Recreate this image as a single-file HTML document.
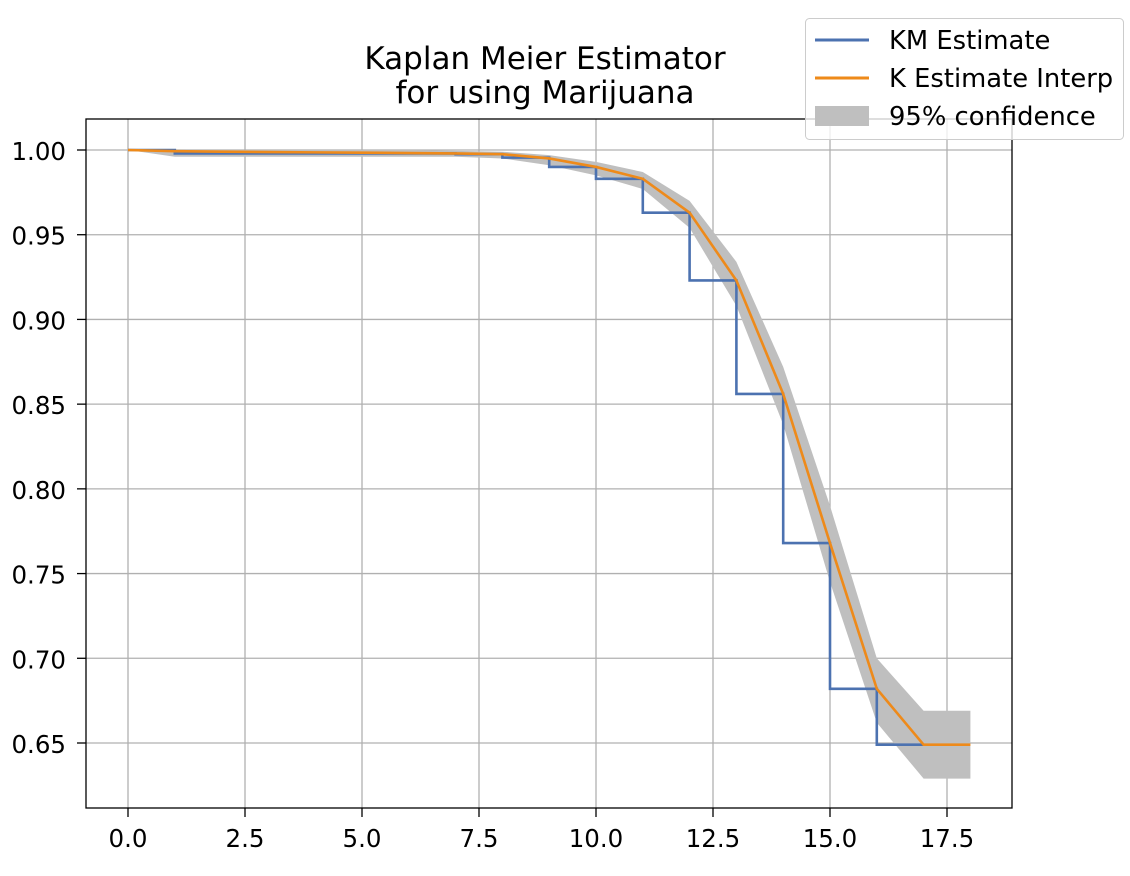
<!DOCTYPE html>
<html><head><meta charset="utf-8"><style>
body{margin:0;background:#fff;}
svg{display:block;font-family:"DejaVu Sans","Liberation Sans",sans-serif;}
</style></head><body>
<svg id="chart" width="1130" height="876" viewBox="0 0 1130 876">
<g id="grid"></g>
<g id="band"></g>
<g id="lines"></g>
<rect x="86" y="119" width="926" height="689" fill="none" stroke="#000" stroke-width="1.3"/>
<g id="ticks"></g>
<text x="545" y="69" text-anchor="middle" font-size="31">Kaplan Meier Estimator</text>
<text x="545" y="103" text-anchor="middle" font-size="31">for using Marijuana</text>
<g>
<rect x="805.5" y="18.5" width="318" height="121" rx="4" fill="#fff" fill-opacity="0.8" stroke="#ccc"/>
<line x1="815" y1="40" x2="869" y2="40" stroke="#4c72b0" stroke-width="3"/>
<text x="889" y="49" font-size="25.8">KM Estimate</text>
<line x1="815" y1="78" x2="869" y2="78" stroke="#ee8a1a" stroke-width="3"/>
<text x="889" y="87" font-size="25.8">K Estimate Interp</text>
<rect x="815" y="106" width="54" height="20" fill="#bfbfbf"/>
<text x="889" y="125" font-size="25.8">95% confidence</text>
</g>
</svg>
<script>
const kmTimes=[0,1,2,3,4,5,6,7,8,9,10,11,12,13,14,15,16,17];
const kmValues=[1.0,0.998,0.998,0.998,0.998,0.998,0.998,0.9975,0.9955,0.990,0.983,0.963,0.923,0.856,0.768,0.682,0.649,0.649];
const interpTimes=[0,1,2,3,4,5,6,7,8,9,10,11,12,13,14,15,16,17,18];
const interpValues=[1.0,0.9993,0.999,0.9988,0.9986,0.9984,0.9982,0.998,0.9975,0.995,0.990,0.983,0.963,0.923,0.856,0.768,0.682,0.649,0.649];
const ciUpper=[1.0,1.0,1.0,1.0,1.0,1.0,1.0,0.9995,0.999,0.997,0.993,0.987,0.970,0.934,0.872,0.790,0.700,0.669,0.669];
const ciLower=[1.0,0.996,0.996,0.996,0.996,0.996,0.996,0.996,0.995,0.991,0.985,0.977,0.954,0.908,0.838,0.745,0.662,0.629,0.629];
const xTicks=[0,2.5,5,7.5,10,12.5,15,17.5];
const yTicks=[0.65,0.70,0.75,0.80,0.85,0.90,0.95,1.00];
const NS="http://www.w3.org/2000/svg";
const X=t=>128+t*(947-128)/17.5;
const Y=v=>150+(1-v)*(743-150)/0.35;
function mk(tag,attrs,parent){const e=document.createElementNS(NS,tag);for(const k in attrs)e.setAttribute(k,attrs[k]);parent.appendChild(e);return e;}
const grid=document.getElementById('grid'),ticks=document.getElementById('ticks');
xTicks.forEach(t=>{
 const g=mk('line',{x1:X(t),x2:X(t),y1:119,y2:808,stroke:'#b0b0b0','stroke-width':1.3},grid);
 
 
 const tk=mk('line',{x1:X(t),x2:X(t),y1:808,y2:817,stroke:'#000','stroke-width':1.3},ticks);
 
 
 const l=mk('text',{x:X(t),y:847,'text-anchor':'middle','font-size':24.5},ticks);
 
 
 l.textContent=t.toFixed(1);
});
yTicks.forEach(v=>{
 const g=mk('line',{x1:86,x2:1012,y1:Y(v),y2:Y(v),stroke:'#b0b0b0','stroke-width':1.3},grid);
 
 
 const tk=mk('line',{x1:77,x2:86,y1:Y(v),y2:Y(v),stroke:'#000','stroke-width':1.3},ticks);
 
 
 const l=mk('text',{x:66,y:Y(v)+10,'text-anchor':'end','font-size':24.5},ticks);
 
 
 l.textContent=v.toFixed(2);
});
let bp=interpTimes.map((t,i)=>X(t)+','+Y(ciUpper[i]));
for(let i=interpTimes.length-1;i>=0;i--)bp.push(X(interpTimes[i])+','+Y(ciLower[i]));
const band=mk('polygon',{points:bp.join(' '),fill:'#bfbfbf'},document.getElementById('band'));


const lines=document.getElementById('lines');
let d='M'+X(kmTimes[0])+','+Y(kmValues[0]);
for(let i=1;i<kmTimes.length;i++){d+=' L'+X(kmTimes[i])+','+Y(kmValues[i-1])+' L'+X(kmTimes[i])+','+Y(kmValues[i]);}
const km=mk('path',{d:d,fill:'none',stroke:'#4c72b0','stroke-width':2.6},lines);


const ip=mk('polyline',{points:interpTimes.map((t,i)=>X(t)+','+Y(interpValues[i])).join(' '),fill:'none',stroke:'#ee8a1a','stroke-width':2.6},lines);


</script>
</body></html>
